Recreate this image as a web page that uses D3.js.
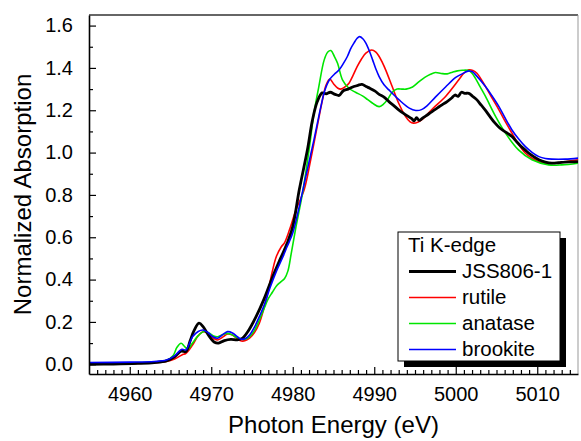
<!DOCTYPE html>
<html>
<head>
<meta charset="utf-8">
<script src="https://cdn.jsdelivr.net/npm/d3@7"></script>
<style>
  body { margin: 0; background: #fff; }
  svg { display: block; font-family: "Liberation Sans", Arial, sans-serif; }
</style>
</head>
<body>
<svg width="581" height="441"></svg>
<script>
// Ti K-edge XANES, normalized absorption vs photon energy
// [energy (eV), normalized absorption]
const jss806 = [
  [4955,0.000],[4958,0.001],[4961,0.004],[4963,0.008],[4964.5,0.016],[4965.5,0.035],
  [4966.3,0.062],[4966.9,0.060],[4967.4,0.110],[4967.9,0.160],[4968.5,0.194],[4969.0,0.178],
  [4969.7,0.135],[4970.4,0.104],[4970.9,0.100],[4971.6,0.112],[4972.4,0.118],[4973.2,0.115],
  [4973.8,0.122],[4974.5,0.155],[4975.5,0.225],[4976.5,0.310],[4977.5,0.410],[4978.5,0.500],
  [4979.3,0.570],[4980.0,0.650],[4980.8,0.824],[4981.8,1.013],[4982.4,1.150],[4983.0,1.240],
  [4983.6,1.282],[4984.1,1.278],[4984.6,1.285],[4985.2,1.275],[4985.7,1.270],[4986.2,1.292],
  [4986.8,1.300],[4987.5,1.312],[4988.0,1.318],[4988.5,1.322],[4989.0,1.312],[4989.5,1.303],
  [4990.1,1.290],[4990.6,1.275],[4991.2,1.262],[4991.8,1.241],[4992.4,1.222],[4993.0,1.202],
  [4993.6,1.185],[4994.2,1.170],[4994.6,1.160],[4994.9,1.150],[4995.2,1.165],[4995.5,1.152],
  [4996.0,1.165],[4996.6,1.180],[4997.1,1.194],[4997.8,1.212],[4998.4,1.228],[4998.9,1.240],
  [4999.5,1.258],[4999.9,1.272],[5000.3,1.266],[5000.7,1.285],[5001.1,1.280],[5001.6,1.280],
  [5002.1,1.265],[5002.6,1.249],[5003.1,1.225],[5003.6,1.202],[5004.2,1.170],[5004.8,1.140],
  [5005.3,1.120],[5005.8,1.105],[5006.4,1.090],[5006.9,1.076],[5007.5,1.050],[5008.0,1.030],
  [5008.5,1.013],[5009.2,0.990],[5010.2,0.966],[5011.0,0.955],[5011.8,0.950],[5012.6,0.952],
  [5013.4,0.955],[5014.2,0.956],[5015,0.957]
];
const rutile = [
  [4955,0.000],[4960,0.002],[4963,0.007],[4964.5,0.013],[4965.5,0.025],[4966.4,0.044],
  [4966.9,0.052],[4967.7,0.091],[4968.4,0.135],[4969.0,0.154],[4969.6,0.145],[4970.3,0.122],
  [4970.8,0.115],[4971.4,0.128],[4972.0,0.143],[4972.6,0.138],[4973.2,0.120],[4973.7,0.110],
  [4974.2,0.112],[4974.7,0.123],[4975.3,0.150],[4975.9,0.194],[4976.5,0.270],[4977.0,0.350],
  [4977.5,0.440],[4978.0,0.510],[4978.6,0.555],[4979.0,0.575],[4979.6,0.635],[4980.4,0.730],
  [4981.4,0.824],[4982.2,0.966],[4983.0,1.123],[4983.65,1.249],[4984.1,1.320],[4984.55,1.347],
  [4985.0,1.325],[4985.5,1.305],[4985.9,1.300],[4986.4,1.310],[4986.9,1.328],[4987.4,1.365],
  [4987.9,1.406],[4988.4,1.440],[4988.97,1.470],[4989.7,1.485],[4990.2,1.475],[4990.6,1.454],
  [4991.0,1.425],[4991.4,1.391],[4992.2,1.312],[4993.0,1.233],[4993.85,1.170],[4994.4,1.145],
  [4994.8,1.139],[4995.4,1.145],[4996.0,1.160],[4997.1,1.205],[4998.75,1.265],[5000.4,1.345],
  [5001.0,1.375],[5001.6,1.391],[5002.1,1.388],[5002.6,1.375],[5003.65,1.312],[5004.5,1.255],
  [5005.3,1.202],[5006.1,1.145],[5006.9,1.092],[5007.7,1.040],[5008.55,0.997],[5009.4,0.972],
  [5010.2,0.957],[5011.0,0.951],[5011.8,0.950],[5012.6,0.952],[5013.45,0.957],[5015,0.966]
];
const anatase = [
  [4955,0.005],[4960,0.006],[4963,0.010],[4964.5,0.018],[4965.3,0.040],[4965.8,0.080],
  [4966.3,0.099],[4966.7,0.085],[4967.1,0.072],[4967.7,0.100],[4968.4,0.135],[4969.1,0.155],
  [4969.7,0.148],[4970.3,0.133],[4970.8,0.130],[4971.4,0.140],[4971.9,0.146],[4972.5,0.140],
  [4973.2,0.125],[4973.8,0.118],[4974.3,0.120],[4974.7,0.130],[4975.3,0.160],[4975.9,0.209],
  [4976.5,0.265],[4977.0,0.310],[4977.5,0.340],[4978.0,0.370],[4978.5,0.388],[4979.0,0.405],
  [4979.4,0.440],[4979.8,0.520],[4980.4,0.650],[4981.2,0.808],[4982.0,1.013],[4982.6,1.186],
  [4983.2,1.312],[4983.86,1.438],[4984.3,1.475],[4984.68,1.482],[4985.1,1.455],[4985.5,1.422],
  [4986.1,1.344],[4986.9,1.304],[4987.7,1.285],[4988.55,1.268],[4989.2,1.250],[4989.8,1.233],
  [4990.6,1.217],[4991.1,1.228],[4991.6,1.249],[4992.2,1.285],[4992.8,1.300],[4993.4,1.300],
  [4993.9,1.300],[4994.7,1.310],[4995.5,1.335],[4996.2,1.355],[4996.9,1.370],[4997.5,1.378],
  [4998.2,1.374],[4998.95,1.372],[4999.6,1.380],[5000.2,1.386],[5000.8,1.389],[5001.6,1.388],
  [5002.0,1.375],[5002.4,1.352],[5003.0,1.310],[5003.65,1.265],[5004.9,1.170],[5006.1,1.092],
  [5007.7,1.013],[5009.35,0.966],[5011.4,0.942],[5013.0,0.942],[5015,0.950]
];
const brookite = [
  [4955,0.008],[4960,0.010],[4963,0.013],[4964.5,0.020],[4965.5,0.040],[4966.4,0.071],
  [4966.9,0.068],[4967.7,0.130],[4968.4,0.155],[4968.97,0.162],[4969.6,0.150],[4970.2,0.130],
  [4970.8,0.123],[4971.4,0.140],[4972.0,0.154],[4972.6,0.148],[4973.2,0.130],[4973.7,0.118],
  [4974.2,0.122],[4974.7,0.138],[4975.3,0.175],[4975.9,0.225],[4976.5,0.280],[4977.2,0.360],
  [4978.0,0.440],[4978.8,0.508],[4979.3,0.555],[4980.0,0.620],[4980.8,0.745],[4981.6,0.887],
  [4982.6,1.060],[4983.45,1.217],[4983.9,1.290],[4984.5,1.344],[4985.1,1.370],[4985.7,1.391],
  [4986.2,1.420],[4986.7,1.454],[4987.1,1.490],[4987.5,1.517],[4987.9,1.540],[4988.2,1.548],
  [4988.6,1.538],[4988.97,1.517],[4989.4,1.480],[4989.8,1.438],[4990.2,1.395],[4990.6,1.359],
  [4991.2,1.320],[4991.8,1.296],[4993.05,1.249],[4994.3,1.210],[4995.1,1.199],[4995.8,1.203],
  [4996.5,1.222],[4997.5,1.262],[4998.75,1.310],[5000.0,1.355],[5000.8,1.372],[5001.5,1.385],
  [5002.0,1.383],[5002.5,1.365],[5003.65,1.312],[5004.5,1.265],[5005.3,1.217],[5006.1,1.160],
  [5006.9,1.107],[5007.7,1.065],[5008.55,1.028],[5009.4,1.000],[5010.2,0.981],[5011.0,0.972],
  [5011.8,0.969],[5013.45,0.969],[5015,0.974]
];

const seriesNames = ["JSS806-1", "rutile", "anatase", "brookite"];
const seriesData = [jss806, rutile, anatase, brookite];
const colors = ["#000000", "#ff0000", "#00e600", "#0000ff"];
const widths = [2.8, 1.6, 1.6, 1.6];

const xTicks = [4960, 4970, 4980, 4990, 5000, 5010];
const yTicks = [0.0, 0.2, 0.4, 0.6, 0.8, 1.0, 1.2, 1.4, 1.6];

const svg = d3.select("svg");
const plotLeft = 89, plotRight = 578, plotTop = 15, plotBottom = 374;

const xScale = d3.scaleLinear().domain([4955, 5015]).range([plotLeft, plotRight]);
const yScale = d3.scaleLinear().domain([-0.046, 1.65]).range([plotBottom, plotTop]);

// frame (top and right borders)
svg.append("line").attr("x1", plotLeft).attr("x2", plotRight).attr("y1", plotTop).attr("y2", plotTop)
  .attr("stroke", "#333").attr("stroke-width", 1.6);
svg.append("line").attr("x1", plotRight).attr("x2", plotRight).attr("y1", plotTop).attr("y2", plotBottom)
  .attr("stroke", "#999").attr("stroke-width", 1);

// curves
svg.append("clipPath").attr("id", "plotclip").append("rect")
  .attr("x", plotLeft).attr("y", plotTop)
  .attr("width", plotRight - plotLeft).attr("height", plotBottom - plotTop);
const line = d3.line()
  .x((d) => xScale(d[0]))
  .y((d) => yScale(d[1]))
  .curve(d3.curveCatmullRom.alpha(0.5));
const plot = svg.append("g").attr("clip-path", "url(#plotclip)");
// drawing order: red, green, black, blue on top
[1, 2, 0, 3].forEach((i) => {
  plot.append("path")
    .datum(seriesData[i])
    .attr("d", line)
    .attr("fill", "none")
    .attr("stroke", colors[i])
    .attr("stroke-width", widths[i])
    .attr("stroke-linejoin", "round");
});

// x axis, ticks pointing inward
const xAxis = d3.axisBottom(xScale).tickValues(xTicks).tickFormat(d3.format("d"))
  .tickSizeInner(-7).tickSizeOuter(0).tickPadding(13);
const gx = svg.append("g").attr("transform", `translate(0,${plotBottom})`).call(xAxis);
gx.selectAll(".tick text").attr("font-size", 20).attr("fill", "#000")
  .attr("font-family", "Liberation Sans, Arial, sans-serif");
gx.selectAll(".tick line").attr("stroke-width", 1.2);
gx.select(".domain").attr("stroke-width", 1.6);
const xMinor = d3.axisBottom(xScale).tickValues(d3.range(4956, 5015, 1).filter((v) => v % 10 !== 0))
  .tickSizeInner(-4).tickSizeOuter(0).tickFormat("");
const gxm = svg.append("g").attr("transform", `translate(0,${plotBottom})`).call(xMinor);
gxm.select(".domain").remove();
gxm.selectAll(".tick line").attr("stroke-width", 1.2);

// y axis
const yAxis = d3.axisLeft(yScale).tickValues(yTicks).tickFormat(d3.format(".1f"))
  .tickSizeInner(-7).tickSizeOuter(0).tickPadding(16);
const gy = svg.append("g").attr("transform", `translate(${plotLeft},0)`).call(yAxis);
gy.selectAll(".tick text").attr("font-size", 20).attr("fill", "#000")
  .attr("font-family", "Liberation Sans, Arial, sans-serif");
gy.selectAll(".tick line").attr("stroke-width", 1.2);
gy.select(".domain").attr("stroke-width", 1.6);
const yMinor = d3.axisLeft(yScale).tickValues(d3.range(0.1, 1.6, 0.2))
  .tickSizeInner(-4).tickSizeOuter(0).tickFormat("");
const gym = svg.append("g").attr("transform", `translate(${plotLeft},0)`).call(yMinor);
gym.select(".domain").remove();
gym.selectAll(".tick line").attr("stroke-width", 1.2);

// axis titles
svg.append("text").text("Photon Energy (eV)")
  .attr("x", (plotLeft + plotRight) / 2).attr("y", 433)
  .attr("text-anchor", "middle").attr("font-size", 24);
svg.append("text").text("Normalized Absorption")
  .attr("transform", `translate(31,${(plotTop + plotBottom) / 2}) rotate(-90)`)
  .attr("text-anchor", "middle").attr("font-size", 24);

// legend with drop shadow
const lg = svg.append("g").attr("transform", "translate(398,232)");
lg.append("rect").attr("x", 6).attr("y", 6).attr("width", 162).attr("height", 129).attr("fill", "#000");
lg.append("rect").attr("x", 0).attr("y", 0).attr("width", 162).attr("height", 129)
  .attr("fill", "#fff").attr("stroke", "#000").attr("stroke-width", 1);
lg.append("text").text("Ti K-edge").attr("x", 10).attr("y", 20).attr("font-size", 20.5);
seriesNames.forEach((name, i) => {
  const yb = 46 + i * 26;
  lg.append("line").attr("x1", 11).attr("x2", 58).attr("y1", yb - 6.5).attr("y2", yb - 6.5)
    .attr("stroke", colors[i]).attr("stroke-width", widths[i]);
  lg.append("text").text(name).attr("x", 64).attr("y", yb).attr("font-size", 20.5);
});
</script>
</body>
</html>
